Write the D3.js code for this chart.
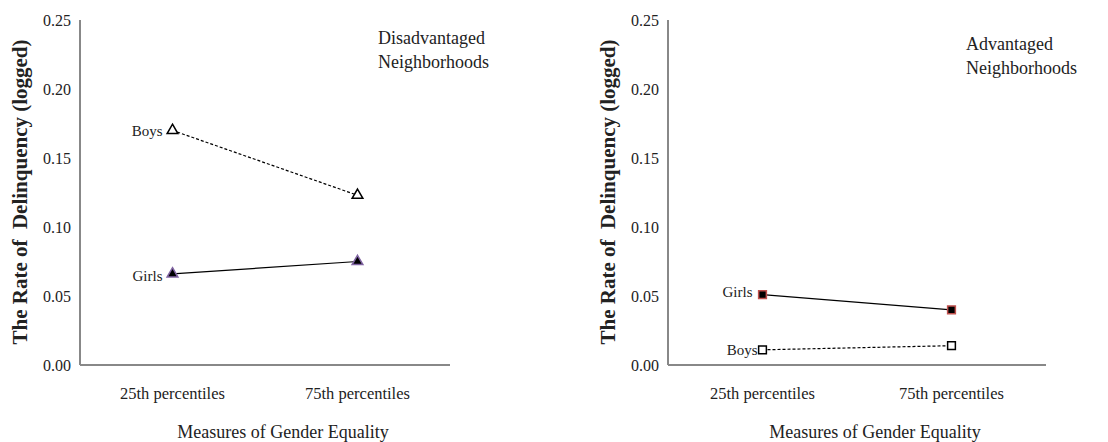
<!DOCTYPE html>
<html>
<head>
    <meta charset='utf-8'>
    <title>Delinquency</title>
    <script src='https://cdn.jsdelivr.net/npm/d3@7'></script>
</head>
<body style='margin:0;background:#fff'>
    <svg width='1108' height='442'></svg>
    <script>
        const categories = ['25th percentiles', '75th percentiles']
        const yTicks = [0, 0.05, 0.10, 0.15, 0.20, 0.25]

        // Disadvantaged neighborhoods
        const boysDis = [0.170, 0.123]
        const girlsDis = [0.066, 0.075]
        // Advantaged neighborhoods
        const boysAdv = [0.011, 0.014]
        const girlsAdv = [0.051, 0.040]

        const FONT = "'Liberation Serif'"
        const INK = '#222'

        const svg = d3.select('svg')

        const panels = [
            { left: 80, right: 450, title: ['Disadvantaged', 'Neighborhoods'], tx: 378, ty: 44,
              series: [
                { name: 'Boys', values: boysDis, dash: '3,2', shape: d3.symbolTriangle, fill: '#fff', stroke: '#000' },
                { name: 'Girls', values: girlsDis, dash: null, shape: d3.symbolTriangle, fill: '#000', stroke: '#8064a2', ldy: 2 }
              ] },
            { left: 668, right: 1046, title: ['Advantaged', 'Neighborhoods'], tx: 966, ty: 50,
              series: [
                { name: 'Girls', values: girlsAdv, dash: null, shape: d3.symbolSquare, fill: '#000', stroke: '#c0504d', ldy: -3 },
                { name: 'Boys', values: boysAdv, dash: '3,2', shape: d3.symbolSquare, fill: '#fff', stroke: '#000', ldx: 5 }
              ] }
        ]

        const plotTop = 20, plotBottom = 365

        function txt(sel, size) {
            return sel.style('font-family', FONT).style('font-size', size + 'px').attr('fill', INK)
        }

        panels.forEach(p => {
            const g = svg.append('g')
            const x = d3.scaleBand().domain(categories).range([p.left, p.right])
            const y = d3.scaleLinear().domain([0, 0.25]).range([plotBottom, plotTop])

            // y tick labels
            txt(g.selectAll('.ytick').data(yTicks).enter().append('text'), 16)
                .attr('x', p.left - 9).attr('y', d => y(d)).attr('dy', '0.35em')
                .attr('text-anchor', 'end')
                .text(d => d3.format('.2f')(d))

            // x tick labels
            txt(g.selectAll('.xtick').data(categories).enter().append('text'), 16.5)
                .attr('x', d => x(d) + x.bandwidth() / 2).attr('y', 393).attr('dy', '0.35em')
                .attr('text-anchor', 'middle')
                .text(d => d)

            // axis lines
            g.append('line').attr('x1', p.left).attr('x2', p.left).attr('y1', plotTop).attr('y2', plotBottom)
                .attr('stroke', '#888').attr('stroke-width', 2)
            g.append('line').attr('x1', p.left).attr('x2', p.right).attr('y1', plotBottom).attr('y2', plotBottom)
                .attr('stroke', '#888').attr('stroke-width', 2)

            // axis titles
            txt(g.append('text'), 21)
                .attr('transform', `translate(${p.left - 60},192) rotate(-90)`)
                .attr('text-anchor', 'middle').attr('dy', '0.35em')
                .style('font-weight', 'bold').style('white-space', 'pre')
                .text('The Rate of  Delinquency (logged)')
            txt(g.append('text'), 18)
                .attr('x', (p.left + p.right) / 2 + 18).attr('y', 432).attr('dy', '0.35em')
                .attr('text-anchor', 'middle')
                .text('Measures of Gender Equality')

            // panel annotation
            txt(g.append('text'), 18).attr('x', p.tx).attr('y', p.ty)
                .selectAll('tspan').data(p.title).enter().append('tspan')
                .attr('x', p.tx).attr('dy', (d, i) => i === 0 ? 0 : 24).text(d => d)

            const line = d3.line()
                .x((d, i) => x(categories[i]) + x.bandwidth() / 2)
                .y(d => y(d))

            p.series.forEach(s => {
                g.append('path').datum(s.values)
                    .attr('d', line).attr('fill', 'none').attr('stroke', '#000')
                    .attr('stroke-width', 1.2).attr('stroke-dasharray', s.dash)
                const sym = d3.symbol().type(s.shape).size(s.shape === d3.symbolSquare ? 60 : 50)
                g.selectAll(null).data(s.values).enter().append('path')
                    .attr('d', sym)
                    .attr('transform', (d, i) => `translate(${x(categories[i]) + x.bandwidth() / 2},${y(d)})`)
                    .attr('fill', s.fill).attr('stroke', s.stroke).attr('stroke-width', 1.5)
                txt(g.append('text'), 15)
                    .attr('x', x(categories[0]) + x.bandwidth() / 2 - 10 + (s.ldx || 0))
                    .attr('y', y(s.values[0]) + (s.ldy || 0)).attr('dy', '0.35em')
                    .attr('text-anchor', 'end')
                    .text(s.name)
            })
        })
    </script>
</body>
</html>
